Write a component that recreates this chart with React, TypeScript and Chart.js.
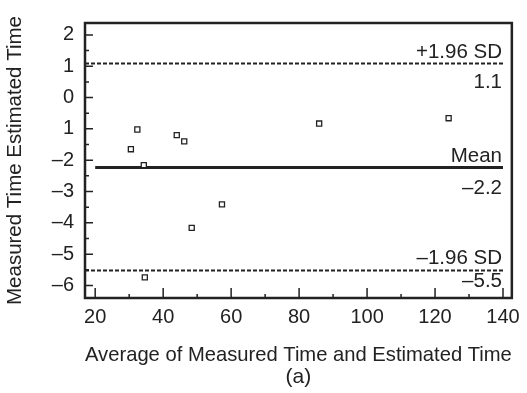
import React, { useEffect, useRef } from "react";
import { Chart, registerables } from "chart.js";

Chart.register(...registerables);

// ---- data ----
const avgValues = [30.5, 32.4, 34.3, 34.6, 44.0, 46.2, 48.4, 57.3, 85.9, 124.0];
const diffValues = [-1.65, -1.02, -2.16, -5.74, -1.2, -1.4, -4.16, -3.41, -0.83, -0.66];

const meanValue = -2.23;
const upperValue = 1.09;
const lowerValue = -5.52;

const meanLabels = ["Mean", "–2.2"];
const upperLabels = ["+1.96 SD", "1.1"];
const lowerLabels = ["–1.96 SD", "–5.5"];

const xTickValues = [20, 40, 60, 80, 100, 120, 140];
const xTickLabels = ["20", "40", "60", "80", "100", "120", "140"];
const xMinorValues = [30, 50, 70, 90, 110, 130];
const yTickValues = [2, 1, 0, -1, -2, -3, -4, -5, -6];
const yTickLabels = ["2", "1", "0", "1", "–2", "–3", "–4", "–5", "–6"];
const yMinorValues = [1.5, 0.5, -0.5, -1.5, -2.5, -3.5, -4.5, -5.5];

const xTitle = ["Average of Measured Time and Estimated Time", "(a)"];
const yTitle = "Measured Time Estimated Time";

const X_MIN = 17;
const X_MAX = 142.6;
const Y_MIN = -6.4;
const Y_MAX = 2.38;
const LINE_START = 20;
const LINE_END = 140;

const INK = "#222222";
const FONT = "'Liberation Sans', Arial, Helvetica, sans-serif";

const framePlugin = {
  id: "frameTicksLabels",
  afterDraw(chart: any) {
    const { ctx, chartArea, scales } = chart;
    const { left, right, top, bottom } = chartArea;
    const x = scales.x;
    const y = scales.y;
    ctx.save();
    ctx.strokeStyle = INK;
    ctx.lineWidth = 2.5;
    ctx.strokeRect(left, top, right - left, bottom - top);

    ctx.lineWidth = 1.5;
    ctx.beginPath();
    for (const v of yTickValues) {
      const py = y.getPixelForValue(v);
      ctx.moveTo(left, py);
      ctx.lineTo(left + 8, py);
    }
    for (const v of yMinorValues) {
      const py = y.getPixelForValue(v);
      ctx.moveTo(left, py);
      ctx.lineTo(left + 4, py);
    }
    for (const v of xTickValues) {
      const px = x.getPixelForValue(v);
      ctx.moveTo(px, bottom);
      ctx.lineTo(px, bottom - 10);
    }
    for (const v of xMinorValues) {
      const px = x.getPixelForValue(v);
      ctx.moveTo(px, bottom);
      ctx.lineTo(px, bottom - 4);
    }
    ctx.stroke();

    // line labels
    ctx.fillStyle = INK;
    ctx.font = `20.5px ${FONT}`;
    ctx.textAlign = "right";
    const tx = x.getPixelForValue(LINE_END) - 1;
    const items: [number, string[], number, number][] = [
      [upperValue, upperLabels, 5, 10],
      [meanValue, meanLabels, 5, 12],
      [lowerValue, lowerLabels, 6, 2],
    ];
    for (const [v, labels, above, below] of items) {
      const py = y.getPixelForValue(v);
      ctx.textBaseline = "alphabetic";
      ctx.fillText(labels[0], tx, py - above);
      ctx.textBaseline = "top";
      ctx.fillText(labels[1], tx, py + below - 1);
    }
    ctx.restore();
  },
};

export default function App() {
  const canvasRef = useRef<HTMLCanvasElement | null>(null);

  useEffect(() => {
    const canvas = canvasRef.current;
    if (!canvas) return;
    const points = avgValues.map((v, i) => ({ x: v, y: diffValues[i] }));
    const chart = new Chart(canvas, {
      type: "scatter",
      data: {
        datasets: [
          {
            label: "Differences",
            data: points,
            pointStyle: "rect",
            pointRadius: 3.6,
            pointBorderWidth: 1.3,
            pointBackgroundColor: "#ffffff",
            pointBorderColor: INK,
            showLine: false,
          },
          {
            label: "+1.96 SD",
            data: [
              { x: X_MIN, y: upperValue },
              { x: LINE_END, y: upperValue },
            ],
            showLine: true,
            borderColor: INK,
            borderWidth: 2,
            borderDash: [4, 2],
            pointRadius: 0,
          },
          {
            label: "Mean",
            data: [
              { x: LINE_START, y: meanValue },
              { x: LINE_END, y: meanValue },
            ],
            showLine: true,
            borderColor: INK,
            borderWidth: 3,
            pointRadius: 0,
          },
          {
            label: "-1.96 SD",
            data: [
              { x: X_MIN, y: lowerValue },
              { x: LINE_END, y: lowerValue },
            ],
            showLine: true,
            borderColor: INK,
            borderWidth: 2,
            borderDash: [4, 2],
            pointRadius: 0,
          },
        ],
      },
      options: {
        responsive: false,
        animation: false,
        layout: { padding: { top: 12, right: 15, left: 0, bottom: 0 } },
        plugins: {
          legend: { display: false },
          tooltip: { enabled: false },
        },
        scales: {
          x: {
            type: "linear",
            min: X_MIN,
            max: X_MAX,
            afterBuildTicks: (scale: any) => {
              scale.ticks = xTickValues.map((v) => ({ value: v }));
            },
            afterFit: (scale: any) => {
              scale.height = 95;
            },
            grid: { display: false, drawTicks: false },
            border: { display: false },
            ticks: {
              color: INK,
              padding: 7,
              autoSkip: false,
              maxRotation: 0,
              font: { family: FONT, size: 20 },
              callback: (value: any) => {
                const i = xTickValues.indexOf(Number(value));
                return i >= 0 ? xTickLabels[i] : "";
              },
            },
            title: {
              display: true,
              text: xTitle,
              color: INK,
              font: { family: FONT, size: 21, lineHeight: 1.05 },
              padding: { top: 0, bottom: 5 },
            },
          },
          y: {
            type: "linear",
            min: Y_MIN,
            max: Y_MAX,
            afterBuildTicks: (scale: any) => {
              scale.ticks = yTickValues.map((v) => ({ value: v }));
            },
            afterFit: (scale: any) => {
              scale.width = 85;
            },
            grid: { display: false, drawTicks: false },
            border: { display: false },
            ticks: {
              color: INK,
              padding: 11,
              autoSkip: false,
              font: { family: FONT, size: 20 },
              callback: (value: any) => {
                const i = yTickValues.indexOf(Number(value));
                return i >= 0 ? yTickLabels[i] : "";
              },
            },
            title: {
              display: true,
              text: yTitle,
              color: INK,
              font: { family: FONT, size: 20.5, lineHeight: 1.2 },
              padding: { top: 3, bottom: 0 },
            },
          },
        },
      },
      plugins: [framePlugin],
    } as any);
    return () => chart.destroy();
  }, []);

  return (
    <div style={{ position: "absolute", left: 0, top: 0, width: 527, height: 393, background: "#fff" }}>
      <canvas ref={canvasRef} width={527} height={393} style={{ display: "block" }} />
    </div>
  );
}
